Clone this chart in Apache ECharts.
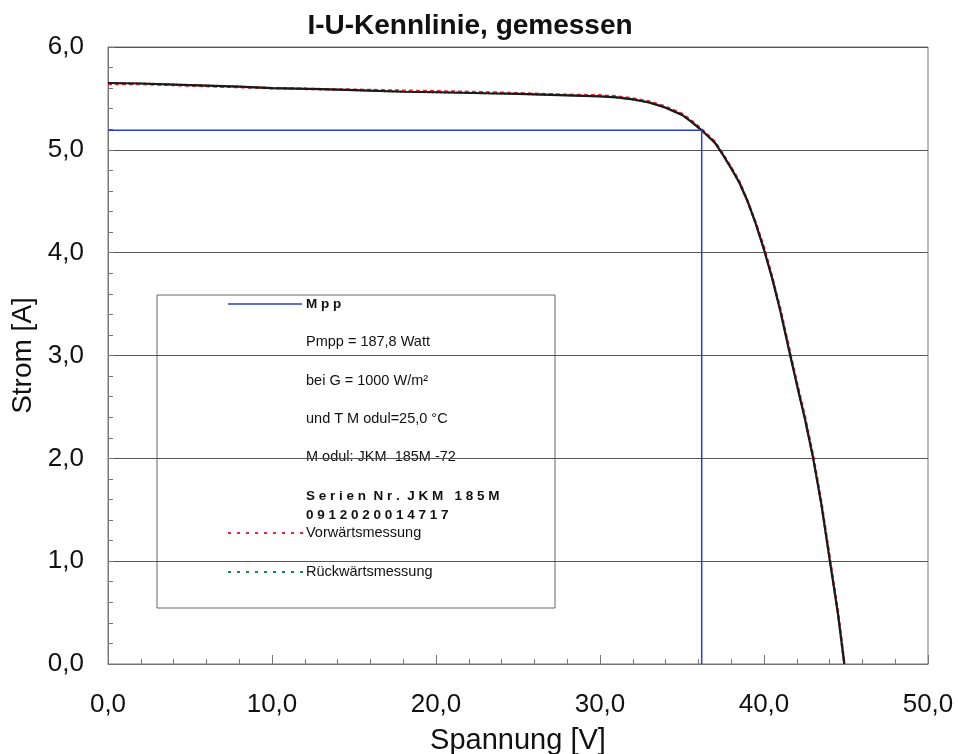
<!DOCTYPE html>
<html>
<head>
<meta charset="utf-8">
<script src="https://cdn.jsdelivr.net/npm/echarts@6/dist/echarts.min.js"></script>
<style>
  html, body { margin: 0; padding: 0; background: #fff; }
  #Kennlinie { width: 958px; height: 754px; }
</style>
</head>
<body>
<div id="Kennlinie"></div>
<script>
var spannung = [0, 2, 5, 8, 10, 13, 15, 18, 20, 23, 25, 28, 30, 31, 32, 33, 34, 35, 35.6, 36.2, 37.0, 37.5, 38.0, 38.5, 39.0, 39.5, 40.0, 40.5, 41.0, 41.6, 42.0, 42.5, 43.0, 43.5, 44.0, 44.5, 44.9];
var strom = [5.65, 5.645, 5.63, 5.615, 5.60, 5.59, 5.58, 5.565, 5.56, 5.55, 5.545, 5.53, 5.52, 5.51, 5.49, 5.46, 5.41, 5.34, 5.27, 5.19, 5.07, 4.95, 4.82, 4.68, 4.50, 4.28, 4.03, 3.75, 3.43, 3.00, 2.72, 2.38, 2.00, 1.55, 1.02, 0.50, 0.00];
var vorwaerts = [5.64, 5.64, 5.625, 5.61, 5.60, 5.59, 5.585, 5.575, 5.57, 5.56, 5.55, 5.535, 5.53, 5.52, 5.50, 5.47, 5.42, 5.35, 5.28, 5.20, 5.08, 4.96, 4.83, 4.69, 4.50, 4.29, 4.05, 3.76, 3.45, 3.02, 2.74, 2.40, 2.02, 1.57, 1.04, 0.52, 0.00];
var rueckwaerts = [5.65, 5.645, 5.63, 5.615, 5.60, 5.59, 5.58, 5.565, 5.56, 5.55, 5.545, 5.53, 5.52, 5.51, 5.49, 5.46, 5.41, 5.34, 5.27, 5.19, 5.07, 4.95, 4.82, 4.68, 4.50, 4.28, 4.03, 3.75, 3.43, 3.00, 2.72, 2.38, 2.00, 1.55, 1.02, 0.50, 0.00];
var mppU = 36.2;
var mppI = 5.19;
var legendeTexte = ['Pmpp = 187,8 Watt', 'bei G = 1000 W/m²', 'und T M odul=25,0 °C', 'M odul: JKM  185M -72'];

function paare(xs, ys) {
    return xs.map(function (x, i) { return [x, ys[i]]; });
}
function komma(v) {
    return v.toFixed(1).replace('.', ',');
}

var schrift = '"Liberation Sans", Arial, sans-serif';
var chart = echarts.init(document.getElementById('Kennlinie'));

function legendText(text, y, fett) {
    return { type: 'text', x: 306, y: y,
             style: { text: text, fontFamily: schrift, fontSize: fett ? 13.5 : 14.5,
                      fontWeight: fett ? 'bold' : 'normal', fill: '#111', verticalAlign: 'middle' } };
}

var option = {
    animation: false,
    backgroundColor: '#fff',
    title: {
        text: 'I-U-Kennlinie, gemessen',
        left: 465,
        textAlign: 'center',
        top: 7,
        textStyle: { fontFamily: schrift, fontSize: 28, fontWeight: 'bold', color: '#111' }
    },
    grid: {
        left: 108, right: 30, top: 47, bottom: 90,
        outerBoundsMode: 'none',
        show: true, borderColor: '#777', borderWidth: 1
    },
    xAxis: {
        type: 'value',
        min: 0, max: 50, interval: 10,
        name: 'Spannung [V]',
        nameLocation: 'middle',
        nameGap: 62,
        nameTextStyle: { fontFamily: schrift, fontSize: 29, color: '#111' },
        axisLine: { lineStyle: { color: '#777' } },
        axisTick: { inside: true, length: 9, lineStyle: { color: '#777' } },
        minorTick: { show: true, splitNumber: 5, length: 5, lineStyle: { color: '#777' } },
        splitLine: { show: false },
        axisLabel: { fontFamily: schrift, fontSize: 26, color: '#111', margin: 28, formatter: komma }
    },
    yAxis: {
        type: 'value',
        min: 0, max: 6, interval: 1,
        name: 'Strom [A]',
        nameLocation: 'middle',
        nameGap: 70,
        nameTextStyle: { fontFamily: schrift, fontSize: 28, color: '#111' },
        axisLine: { show: true, lineStyle: { color: '#777' } },
        axisTick: { show: true, inside: true, length: 6, lineStyle: { color: '#777' } },
        minorTick: { show: true, splitNumber: 5, length: 5, lineStyle: { color: '#777' } },
        splitLine: { show: true, lineStyle: { color: '#555', width: 1 } },
        axisLabel: { fontFamily: schrift, fontSize: 26, color: '#111', margin: 24, formatter: komma }
    },
    series: [
        {
            name: 'Rückwärtsmessung',
            type: 'line',
            data: paare(spannung, rueckwaerts),
            showSymbol: false,
            lineStyle: { color: '#1a8a4a', width: 2, type: 'dotted' },
            z: 2
        },
        {
            name: 'Vorwärtsmessung',
            type: 'line',
            data: paare(spannung, vorwaerts),
            showSymbol: false,
            lineStyle: { color: '#e8283c', width: 2.5, type: [4, 3] },
            z: 3
        },
        {
            name: 'Messung',
            type: 'line',
            data: paare(spannung, strom),
            showSymbol: false,
            lineStyle: { color: '#1a1a1a', width: 2.2 },
            z: 4
        },
        {
            name: 'Mpp',
            type: 'line',
            data: [[0, mppI], [mppU, mppI], [mppU, 0]],
            showSymbol: false,
            lineStyle: { color: '#2a3fc8', width: 1.5 },
            z: 5
        }
    ],
    graphic: [
        {
            type: 'group',
            z: 100,
            children: [
                { type: 'rect', shape: { x: 157, y: 295, width: 398, height: 313 },
                  style: { fill: '#fff', stroke: '#666', lineWidth: 1 } },
                { type: 'line', shape: { x1: 228, y1: 304, x2: 302, y2: 304 },
                  style: { stroke: '#2a3fc8', lineWidth: 1.5 } },
                legendText('M p p', 304, true),
                legendText(legendeTexte[0], 342, false),
                legendText(legendeTexte[1], 381, false),
                legendText(legendeTexte[2], 419, false),
                legendText(legendeTexte[3], 457, false),
                legendText('S e r i e n  N r .  J K M   1 8 5 M', 496, true),
                legendText('0 9 1 2 0 2 0 0 1 4 7 1 7', 515, true),
                { type: 'line', shape: { x1: 228, y1: 533, x2: 303, y2: 533 },
                  style: { stroke: '#e8283c', lineWidth: 2, lineDash: [3, 6] } },
                legendText('Vorwärtsmessung', 533, false),
                { type: 'line', shape: { x1: 228, y1: 572, x2: 303, y2: 572 },
                  style: { stroke: '#1a8a4a', lineWidth: 2, lineDash: [3, 6] } },
                legendText('Rückwärtsmessung', 572, false)
            ]
        }
    ]
};

chart.setOption(option);
</script>
</body>
</html>
